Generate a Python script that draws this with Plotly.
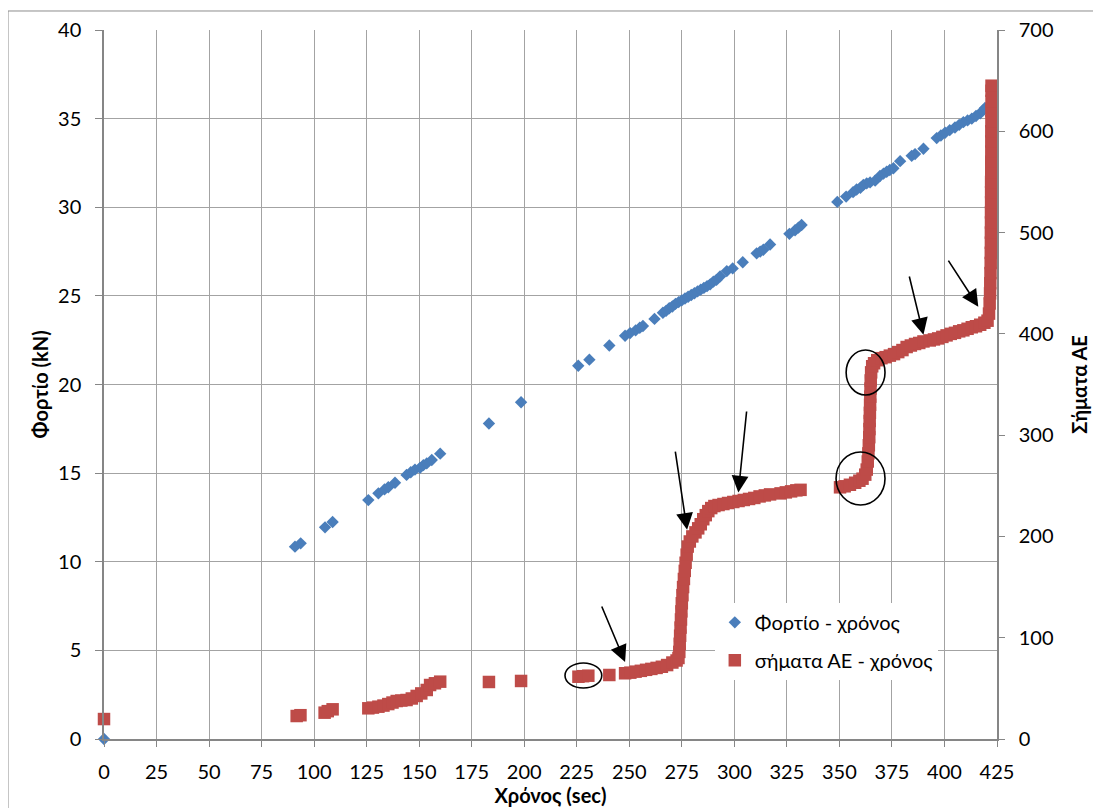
import plotly.graph_objects as go

# ---------------- data ----------------
time_load = [0, 90.9, 93.6, 105.2, 108.8, 125.8, 130.6, 133.5, 135.3, 138.5, 144, 146, 148, 150.4,
             152, 153.6, 156, 160, 183.2, 198.5, 225.7, 231, 240.5, 248, 250.4, 253, 255, 256.5,
             262, 266, 267.5, 269, 270.5, 272, 273.5, 275, 276.5, 278, 279.5, 281, 282.5, 284,
             285.5, 287, 288.5, 290, 291.5, 293.2, 296.4, 299.2, 304, 310.6, 312.3, 313.8, 317,
             326.2, 328.9, 330.5, 332, 349, 353.2, 356.5, 358.2, 360, 361.4, 363, 364.6, 367,
             369.3, 371, 372.5, 374, 375.7, 378.9, 384.4, 386, 390, 396.3, 398.3, 400.3, 402.5,
             405, 407, 409, 411, 413, 415, 417, 418.2, 419.3]
load_kn = [0, 10.85, 11.04, 11.94, 12.24, 13.48, 13.86, 14.08, 14.2, 14.46, 14.9, 15.05, 15.2, 15.3,
           15.45, 15.55, 15.74, 16.1, 17.8, 19.0, 21.06, 21.4, 22.2, 22.75, 22.9, 23.05, 23.2, 23.3,
           23.7, 24.05, 24.15, 24.3, 24.4, 24.55, 24.65, 24.75, 24.85, 24.95, 25.05, 25.15, 25.25, 25.35,
           25.45, 25.55, 25.65, 25.8, 25.9, 26.1, 26.4, 26.55, 26.9, 27.4, 27.5, 27.6, 27.9,
           28.5, 28.7, 28.85, 29.0, 30.3, 30.6, 30.85, 31.0, 31.1, 31.26, 31.35, 31.4, 31.5,
           31.76, 31.9, 32.0, 32.1, 32.2, 32.6, 32.9, 33.0, 33.3, 33.9, 34.05, 34.2, 34.35,
           34.5, 34.65, 34.8, 34.9, 35.0, 35.15, 35.3, 35.45, 35.6]

time_ae = [0, 91.7, 93.5, 105, 106.5, 108.8, 125.8, 128, 130.6, 133, 135.3, 137.3, 139.3, 141.5,
           144, 146.5, 148.8, 151, 153.6, 155.2, 157.5, 160, 183.2, 198.5, 225.8, 228, 230.5, 240.5,
           248, 250.5, 253, 255.5, 258, 260.5, 263, 265.5, 268, 270.5, 272.5, 273.4, 273.8, 274.0,
           274.2, 274.4, 274.6, 274.8, 275.0, 275.3, 275.6, 276.0, 276.4, 276.8, 277.3, 277.8, 278.8,
           280, 281.5, 282.8, 284, 285.2, 286.4, 287.6, 289, 290.5, 292.5, 294.8, 297, 299.5, 302,
           304.5, 307, 309.5, 312, 314.5, 317, 322, 324.5, 327, 329.5, 331.5, 350.3, 352.5, 355,
           357.5, 359.5, 361, 362.3, 363, 363.5, 363.8, 364.0, 364.2, 364.3, 364.4, 364.5, 364.6,
           364.7, 364.8, 364.9, 365.1, 365.6, 366.5, 368, 370, 372, 374, 376, 378, 380, 382, 384,
           386, 388, 390, 393, 395, 397, 399, 401, 403, 405, 407, 409, 411, 413, 415, 417, 419,
           420.5, 421.2, 421.5, 421.7, 421.8, 421.9, 422.0, 422.05, 422.1, 422.1, 422.15, 422.15,
           422.2, 422.2, 422.2, 422.25, 422.25, 422.3, 422.3, 422.3, 422.35, 422.35, 422.4, 422.4, 422.4]
ae_signals = [19.7, 22.7, 23.5, 26, 27.5, 29.3, 30.3, 31, 31.9, 33, 34.5, 36, 37.5, 38,
              38.5, 40, 42.5, 45, 48.4, 53.3, 55, 56.6, 56.3, 57.3, 61.5, 62, 62.5, 63.2,
              64.9, 65.5, 66.5, 67.3, 68.3, 69.2, 70.2, 71.3, 73, 75.5, 77.5, 80, 86, 94,
              102, 110, 118, 126, 134, 142, 150, 158, 166, 174, 182, 190, 195,
              200, 204, 208, 212, 217, 221, 225, 228, 230, 231, 232, 233, 234, 235,
              236, 237, 238, 239.5, 240.5, 241.5, 242.5, 243.5, 244.5, 245.5, 246, 248.5, 249.5, 251,
              253, 255, 257, 261, 266, 274, 282, 290, 298, 306, 314, 322, 330,
              338, 346, 354, 362, 368, 371, 374, 376, 377, 378.5, 380, 382, 384, 387, 388.5,
              390, 391, 392.5, 393.5, 394.5, 395.5, 397, 398.5, 400, 401, 402.5, 403.5, 405, 406.5, 407.5, 409, 411,
              413, 420, 430, 440, 450, 460, 470, 480, 490, 500, 510, 520,
              530, 540, 550, 560, 570, 580, 590, 600, 610, 620, 630, 640, 645]

x_ticks = list(range(0, 426, 25))
y_ticks = list(range(0, 41, 5))
y2_ticks = list(range(0, 701, 100))

load_name = "Φορτίο - χρόνος"
ae_name = "σήματα ΑΕ - χρόνος"

# annotation arrows: (tail_t, tail_load, head_t, head_load)
arrows = [(236.6, 7.56, 248.0, 4.34),
          (271.8, 16.3, 277.5, 11.8),
          (305.9, 18.56, 301.9, 13.9),
          (383.1, 26.18, 390.0, 22.8),
          (401.4, 27.07, 416.1, 24.39)]
# ellipses: (t0, t1, load0, load1)
ellipses = [(219.4, 236.9, 2.88, 4.29),
            (348.4, 371.7, 13.2, 16.19),
            (353.2, 371.7, 19.41, 21.95)]

FONT = "Lato, 'Noto Sans', sans-serif"
GRID = "#A3A3A3"
AXIS = "#868686"

fig = go.Figure()
fig.add_trace(go.Scatter(x=time_load, y=load_kn, mode="markers", name=load_name, legendgroup="a",
                         marker=dict(symbol="diamond", size=9.5, color="#4A7EBB"),
                         cliponaxis=False, yaxis="y"))
fig.add_trace(go.Scatter(x=time_ae, y=ae_signals, mode="markers", name=ae_name, legendgroup="b",
                         marker=dict(symbol="square", size=12.5, color="#BE4B48"),
                         cliponaxis=False, yaxis="y2"))

for tt, tl, ht, hl in arrows:
    fig.add_annotation(x=ht, y=hl, ax=tt, ay=tl, xref="x", yref="y", axref="x", ayref="y",
                       text="", showarrow=True, arrowhead=2, arrowsize=2.1, arrowwidth=1.6,
                       arrowcolor="black", standoff=0)
for t0, t1, l0, l1 in ellipses:
    fig.add_shape(type="circle", xref="x", yref="y", x0=t0, x1=t1, y0=l0, y1=l1,
                  line=dict(color="black", width=1.6))

# left axis title as rotated text
fig.add_annotation(text="<b>Φορτίο (kN)</b>", xref="paper", yref="paper", x=-0.0717, y=0.5,
                   xanchor="center", yanchor="middle", textangle=-90, showarrow=False,
                   font=dict(size=20, family=FONT, color="black"))

# outer chart border
fig.add_shape(type="rect", xref="paper", yref="paper", x0=-0.1075, x1=1.3, y0=-0.3, y1=1.0268,
              line=dict(color="#8C8C8C", width=1), layer="below")

fig.update_layout(
    width=1101, height=808,
    margin=dict(l=96, r=112, t=22, b=77, autoexpand=False),
    paper_bgcolor="white", plot_bgcolor="white",
    font=dict(family=FONT, size=20, color="black"),
    showlegend=True,
    legend=dict(x=0.684, y=0.192, xanchor="left", yanchor="top", bgcolor="white",
                font=dict(size=20), itemsizing="trace", tracegroupgap=9),
    xaxis=dict(range=[0, 425], tickvals=x_ticks, ticktext=[str(v) for v in x_ticks],
               showgrid=True, gridcolor=GRID, gridwidth=1, zeroline=False, automargin=False,
               showline=True, linecolor=AXIS, linewidth=1.5, ticks="outside", ticklen=6,
               tickcolor=AXIS, ticklabelstandoff=8,
               title=dict(text="<b>Χρόνος (sec)</b>", font=dict(size=20), standoff=2)),
    yaxis=dict(range=[0, 40], tickvals=y_ticks, showgrid=True, gridcolor=GRID, gridwidth=1,
               zeroline=False, showline=True, linecolor=AXIS, linewidth=1.5, ticks="outside",
               ticklen=7, tickcolor=AXIS, ticklabelstandoff=10, automargin=False),
    yaxis2=dict(range=[0, 700], tickvals=y2_ticks, overlaying="y", side="right", showgrid=False,
                zeroline=False, showline=True, linecolor=AXIS, linewidth=1.5, ticks="outside",
                ticklen=6, tickcolor=AXIS, ticklabelstandoff=10, automargin=False,
                title=dict(text="<b>Σήματα ΑΕ</b>", font=dict(size=20), standoff=20)),
)

fig.write_html("out.html")
